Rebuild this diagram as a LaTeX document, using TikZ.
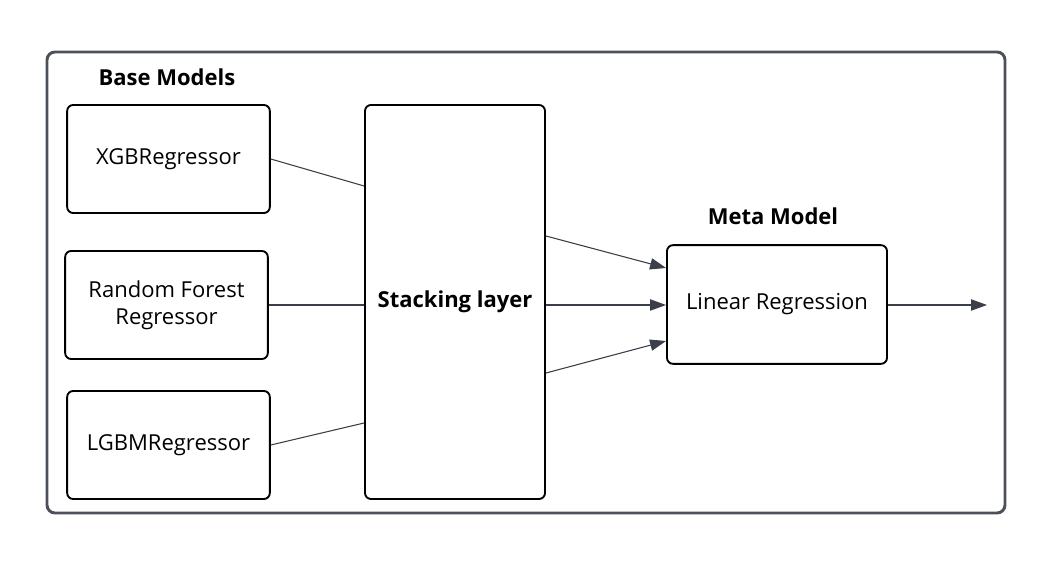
\documentclass[tikz,border=0pt]{standalone}
\usepackage{fontspec}
\setmainfont{Open Sans}
\usetikzlibrary{calc,arrows.meta}
\definecolor{linkgray}{HTML}{3A3F4A}
\definecolor{framegray}{HTML}{4B5059}

\begin{document}
\begin{tikzpicture}[x=0.75pt,y=-0.75pt,
	model/.style={draw=black,line width=1.4pt,rounded corners=4.5pt,align=center,font=\fontsize{16.5}{20}\selectfont},
	link/.style={draw=linkgray,line width=0.8pt},
	arr/.style={link,-{Triangle[length=12pt,width=8.5pt]},fill=linkgray},
	title/.style={font=\fontsize{16.5}{19}\selectfont\bfseries}]
	\useasboundingbox (0,0) rectangle (1045,580);
	\draw[draw=framegray,line width=2.2pt,rounded corners=6pt] (47,52) rectangle (1005,513);
	\node[title] (base) at (167,77) {Base Models};
	\node[title] (meta) at (773,216) {Meta Model};
	\node[model,minimum width=152pt,minimum height=81pt] (xgb) at (168.5,159) {XGBRegressor};
	\node[model,minimum width=152pt,minimum height=81pt] (rf) at (166.5,305) {Random Forest\\Regressor};
	\node[model,minimum width=152pt,minimum height=81pt] (lgbm) at (168.5,445) {LGBMRegressor};
	\node[model,minimum width=135pt,minimum height=295.5pt,font=\fontsize{16.5}{20}\selectfont\bfseries] (stack) at (455,302) {Stacking layer};
	\node[model,minimum width=165pt,minimum height=89pt] (lr) at (777,304.5) {Linear Regression};
	\coordinate (out) at (987,305);
	% base models into the stacking layer
	\draw[link] (xgb.east) -- ($(stack.west)+(0,-116)$);
	\draw[link] (rf.east) -- (rf.east -| stack.west);
	\draw[link] (lgbm.east) -- ($(stack.west)+(0,121)$);
	% stacking layer into the meta model
	\draw[arr] ($(stack.east)+(0,-66)$) -- ($(lr.west)+(0,-36.5)$);
	\draw[arr] (stack.east |- out) -- (lr.west |- out);
	\draw[arr] ($(stack.east)+(0,71)$) -- ($(lr.west)+(0,36.5)$);
	\draw[arr] (lr.east |- out) -- (out);
\end{tikzpicture}
\end{document}
